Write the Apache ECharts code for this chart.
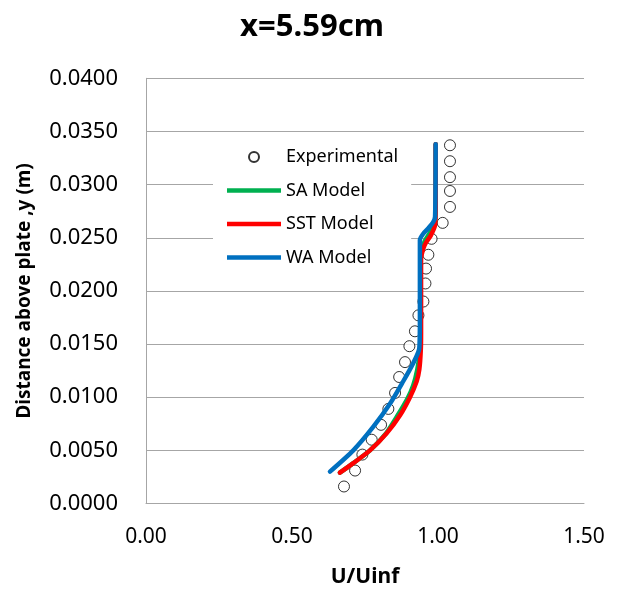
<!DOCTYPE html>
<html>
<head>
<meta charset="utf-8">
<script src="https://cdn.jsdelivr.net/npm/echarts@6/dist/echarts.min.js"></script>
<style>
  html, body { margin: 0; padding: 0; background: #fff; }
  #chart { width: 624px; height: 594px; }
</style>
</head>
<body>
<div id="chart"></div>
<script>
// Velocity profile at x = 5.59 cm: measured points and three turbulence models
const titleText = 'x=5.59cm';
const xTicks = [0.0, 0.5, 1.0, 1.5];
const yTicks = [0.0, 0.005, 0.010, 0.015, 0.020, 0.025, 0.030, 0.035, 0.040];

const expU = [0.678, 0.716, 0.741, 0.773, 0.805, 0.830, 0.853, 0.867, 0.887, 0.902, 0.921, 0.933,
              0.950, 0.957, 0.959, 0.967, 0.978, 1.016, 1.041, 1.041, 1.041, 1.041, 1.041];
const expY = [0.0016, 0.0031, 0.0046, 0.0060, 0.0074, 0.0089, 0.0104, 0.0119, 0.0133, 0.0148, 0.0162, 0.0177,
              0.0190, 0.0207, 0.0221, 0.0234, 0.0249, 0.0264, 0.0279, 0.0294, 0.0307, 0.0322, 0.0337];

const saU = [0.664, 0.710, 0.767, 0.822, 0.862, 0.896, 0.915, 0.929, 0.938, 0.940, 0.940, 0.955, 0.975, 0.990, 0.992, 0.992];
const saY = [0.0029, 0.0038, 0.0050, 0.0066, 0.0083, 0.0099, 0.0111, 0.0126, 0.0143, 0.0160, 0.0235, 0.0247, 0.0256, 0.0265, 0.0280, 0.0338];

const sstU = [0.664, 0.710, 0.767, 0.824, 0.870, 0.904, 0.927, 0.936, 0.941, 0.942, 0.942, 0.950, 0.960, 0.975, 0.990, 0.992, 0.992];
const sstY = [0.0029, 0.0038, 0.0050, 0.0066, 0.0083, 0.0100, 0.0115, 0.0126, 0.0144, 0.0160, 0.0230, 0.0240, 0.0246, 0.0252, 0.0262, 0.0280, 0.0338];

const waU = [0.630, 0.710, 0.778, 0.836, 0.881, 0.915, 0.936, 0.938, 0.938, 0.950, 0.967, 0.984, 0.990, 0.992];
const waY = [0.0030, 0.0050, 0.0072, 0.0094, 0.0115, 0.0132, 0.0146, 0.0173, 0.0248, 0.0254, 0.0259, 0.0265, 0.0270, 0.0338];

const pairs = (u, y) => u.map((v, i) => [v, y[i]]);

const FONT = 'Noto Sans';
const gridGray = '#a6a6a6';
// thick bar used as the legend key for the model lines
const lineKey = 'path://M0,0L120,0L120,10L0,10Z';

const chart = echarts.init(document.getElementById('chart'), null, { renderer: 'canvas' });

const lineSeries = (name, u, y, color) => ({
  name, type: 'line', data: pairs(u, y), showSymbol: false, symbol: 'none',
  smooth: 0.25,
  lineStyle: { color, width: 4.5, cap: 'round', join: 'round' },
  itemStyle: { color },
  z: 3
});

chart.setOption({
  animation: false,
  backgroundColor: '#fff',
  title: {
    text: titleText, left: 'center', top: 7,
    textStyle: { fontFamily: FONT, fontSize: 31, fontWeight: 'bold', color: '#000' }
  },
  grid: { left: 146, right: 40, top: 78.3, bottom: 90.5 },
  legend: {
    orient: 'vertical', left: 213, top: 140,
    backgroundColor: '#fff',
    padding: [6, 13, 6, 14],
    itemWidth: 54, itemHeight: 10, itemGap: 11.5,
    symbolKeepAspect: true,
    textStyle: { fontFamily: FONT, fontSize: 18, lineHeight: 22, color: '#000' },
    data: [
      { name: 'Experimental' },
      { name: 'SA Model', icon: lineKey },
      { name: 'SST Model', icon: lineKey },
      { name: 'WA Model', icon: lineKey }
    ]
  },
  xAxis: {
    type: 'value', min: xTicks[0], max: xTicks[xTicks.length - 1], interval: 0.5,
    name: 'U/Uinf', nameLocation: 'middle', nameGap: 63,
    nameTextStyle: { fontFamily: FONT, fontSize: 21, fontWeight: 'bold', color: '#000' },
    axisLine: { show: true, lineStyle: { color: gridGray, width: 1 } },
    axisTick: { show: false },
    splitLine: { show: false },
    axisLabel: { fontFamily: FONT, fontSize: 21, color: '#000', margin: 23,
                 formatter: v => v.toFixed(2) }
  },
  yAxis: {
    type: 'value', min: yTicks[0], max: yTicks[yTicks.length - 1], interval: 0.005,
    name: 'Distance above plate ,y (m)', nameLocation: 'middle', nameGap: 112, nameRotate: 90,
    nameTextStyle: { fontFamily: FONT, fontSize: 19, fontWeight: 'bold', color: '#000' },
    axisLine: { show: true, lineStyle: { color: gridGray, width: 1 } },
    axisTick: { show: false },
    splitLine: { show: true, lineStyle: { color: gridGray, width: 1 } },
    axisLabel: { fontFamily: FONT, fontSize: 22, color: '#000', margin: 28,
                 formatter: v => v.toFixed(4) }
  },
  series: [
    {
      name: 'Experimental', type: 'scatter', data: pairs(expU, expY),
      symbol: 'circle', symbolSize: 11,
      itemStyle: { color: '#fff', borderColor: '#000', borderWidth: 1 },
      z: 2
    },
    lineSeries('SA Model', saU, saY, '#00b050'),
    lineSeries('SST Model', sstU, sstY, '#ff0000'),
    lineSeries('WA Model', waU, waY, '#0070c0')
  ]
});
</script>
</body>
</html>
